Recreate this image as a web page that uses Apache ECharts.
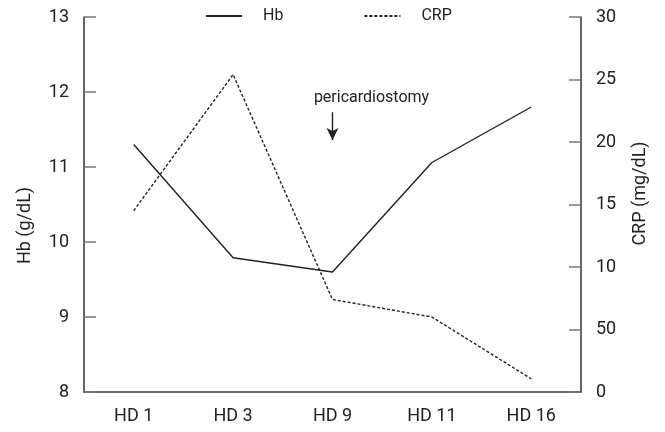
<!DOCTYPE html>
<html>
<head>
<meta charset="utf-8">
<script src="https://cdn.jsdelivr.net/npm/echarts@6/dist/echarts.min.js"></script>
<style>
html,body{margin:0;padding:0;background:#fff;}
#c{width:665px;height:432px;}
</style>
</head>
<body>
<div id="c"></div>
<script>
const categories = ['HD 1', 'HD 3', 'HD 9', 'HD 11', 'HD 16'];
const hbValues = [11.3, 9.79, 9.6, 11.06, 11.8];
const crpValues = [14.5, 25.4, 7.4, 6.0, 1.05];
const crpTickLabels = ['0', '50', '10', '15', '20', '25', '30'];
const annotationText = 'pericardiostomy';
const arrowFromTo = [11.73, 11.36];
const annotationY = 11.92;

const FONT = "Roboto, 'Liberation Sans', sans-serif";
const INK = '#222';
const AXIS = '#333';

const chart = echarts.init(document.getElementById('c'), null, {renderer: 'canvas'});

chart.setOption({
  animation: false,
  backgroundColor: '#fff',
  textStyle: {fontFamily: FONT, color: INK},
  grid: {left: 84, right: 84, top: 17, bottom: 40, containLabel: false},
  legend: {
    left: 200, top: 3,
    itemWidth: 36, itemHeight: 14, itemGap: 80,
    itemStyle: {opacity: 0},
    textStyle: {fontFamily: FONT, fontSize: 16, color: INK, padding: [0, 0, 0, 16]},
    data: ['Hb', 'CRP']
  },
  xAxis: {
    type: 'category',
    data: categories,
    boundaryGap: true,
    axisLine: {lineStyle: {color: AXIS, width: 1.5}},
    axisTick: {inside: true, length: 11, lineStyle: {color: '#777', width: 1.5}},
    axisLabel: {fontFamily: FONT, fontSize: 18, color: INK, margin: 15}
  },
  yAxis: [
    {
      type: 'value', min: 8, max: 13, interval: 1,
      name: 'Hb (g/dL)', nameLocation: 'middle', nameRotate: 90, nameGap: 50,
      nameTextStyle: {fontFamily: FONT, fontSize: 18, color: INK, padding: [0, 42, 0, 0]},
      axisLine: {show: true, lineStyle: {color: AXIS, width: 1.5}},
      axisTick: {show: true, inside: true, length: 12, lineStyle: {color: '#777', width: 1.5}},
      axisLabel: {fontFamily: FONT, fontSize: 18, color: INK, margin: 15},
      splitLine: {show: false}
    },
    {
      type: 'value', min: 0, max: 30, interval: 5, position: 'right',
      name: 'CRP (mg/dL)', nameLocation: 'middle', nameRotate: 90, nameGap: 50,
      nameTextStyle: {fontFamily: FONT, fontSize: 18, color: INK, padding: [0, 0, 0, 22]},
      axisLine: {show: true, lineStyle: {color: AXIS, width: 1.5}},
      axisTick: {show: true, inside: true, length: 12, lineStyle: {color: '#777', width: 1.5}},
      axisLabel: {fontFamily: FONT, fontSize: 18, color: INK, margin: 15,
        formatter: function (v) { return crpTickLabels[Math.round(v / 5)]; }},
      splitLine: {show: false}
    }
  ],
  series: [
    {
      name: 'Hb', type: 'line', yAxisIndex: 0, data: hbValues,
      symbol: 'none', lineStyle: {color: INK, width: 1.4, type: 'solid'},
      itemStyle: {color: INK},
      markLine: {
        silent: true, symbol: ['none', 'arrow'], symbolSize: [9, 12],
        lineStyle: {color: INK, width: 1.4, type: 'solid'},
        label: {show: false},
        data: [[{coord: [categories[2], arrowFromTo[0]]}, {coord: [categories[2], arrowFromTo[1]]}]]
      },
      markPoint: {
        silent: true, symbol: 'circle', symbolSize: 0,
        label: {show: true, formatter: annotationText, fontFamily: FONT, fontSize: 16, color: INK, offset: [39, 0]},
        data: [{coord: [categories[2], annotationY]}]
      }
    },
    {
      name: 'CRP', type: 'line', yAxisIndex: 1, data: crpValues,
      symbol: 'none', lineStyle: {color: INK, width: 1.4, type: [3, 2]},
      itemStyle: {color: INK}
    }
  ]
});
</script>
</body>
</html>
